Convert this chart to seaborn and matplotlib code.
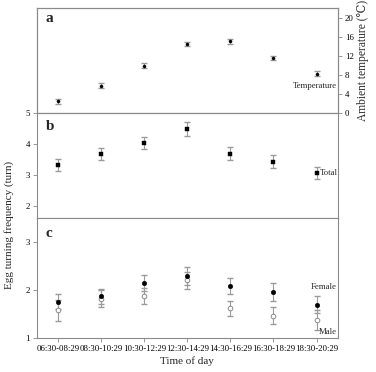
import matplotlib
matplotlib.use("Agg")
import matplotlib.pyplot as plt
import numpy as np
import pandas as pd
import seaborn as sns

periods = ["06:30-08:29", "08:30-10:29", "10:30-12:29", "12:30-14:29",
           "14:30-16:29", "16:30-18:29", "18:30-20:29"]
temp = [2.5, 5.8, 10.0, 14.6, 15.1, 11.6, 8.3]
temp_err = [0.5, 0.5, 0.5, 0.4, 0.5, 0.5, 0.5]
total = [3.33, 3.69, 4.03, 4.48, 3.70, 3.43, 3.07]
total_err = [0.20, 0.20, 0.19, 0.22, 0.20, 0.21, 0.19]
female = [1.76, 1.87, 2.15, 2.29, 2.08, 1.96, 1.70]
female_err = [0.15, 0.15, 0.17, 0.19, 0.17, 0.18, 0.17]
male = [1.58, 1.82, 1.88, 2.20, 1.62, 1.47, 1.37]
male_err = [0.22, 0.18, 0.16, 0.18, 0.16, 0.18, 0.21]

sns.set_style("ticks")
plt.rcParams["font.family"] = ["Liberation Serif", "DejaVu Serif"]
grey = "#8a8a8a"
bar_grey = "#9a9a9a"

fig = plt.figure(figsize=(3.76, 3.72), dpi=100)
ax_a = fig.add_axes([0.098, 0.696, 0.801, 0.282])
ax_b = fig.add_axes([0.098, 0.414, 0.801, 0.282])
ax_c = fig.add_axes([0.098, 0.091, 0.801, 0.323])

xs = np.arange(len(periods))
df = pd.DataFrame({"period": periods, "temp": temp, "total": total,
                   "female": female, "male": male})

# panel a: temperature on right axis
ax_t = ax_a.twinx()
ax_a.set_yticks([])
ax_t.errorbar(xs, temp, yerr=temp_err, fmt="none", ecolor=bar_grey, elinewidth=0.8, capsize=2)
sns.scatterplot(data=df, x="period", y="temp", ax=ax_t, color="black", marker="o", s=5,
                edgecolor="black", linewidth=0.3, zorder=3)
ax_t.set_ylim(0, 22.1)
ax_t.set_yticks([0, 4, 8, 12, 16, 20])
ax_t.set_ylabel("Ambient temperature (℃)", fontsize=8.3, labelpad=2)
ax_t.text(6.47, 5.8, "Temperature", ha="right", va="center", fontsize=6.3)
ax_a.text(0.03, 0.9, "a", transform=ax_a.transAxes, fontsize=11, fontweight="bold", va="center")

# panel b: total
ax_b.errorbar(xs, total, yerr=total_err, fmt="none", ecolor=bar_grey, elinewidth=0.8, capsize=2)
sns.scatterplot(data=df, x="period", y="total", ax=ax_b, color="black", marker="s", s=11,
                edgecolor="black", linewidth=0.3, zorder=3)
ax_b.set_ylim(1.63, 5.0)
ax_b.set_yticks([2, 3, 4, 5])
ax_b.text(6.07, total[-1], "Total", ha="left", va="center", fontsize=6.3)
ax_b.text(0.03, 0.87, "b", transform=ax_b.transAxes, fontsize=11, fontweight="bold", va="center")

# panel c: female and male
ax_c.errorbar(xs, female, yerr=female_err, fmt="none", ecolor=bar_grey, elinewidth=0.8, capsize=2)
ax_c.errorbar(xs, male, yerr=male_err, fmt="none", ecolor=bar_grey, elinewidth=0.8, capsize=2)
sns.scatterplot(data=df, x="period", y="male", ax=ax_c, color="white", marker="o", s=11,
                edgecolor=grey, linewidth=0.7, zorder=3)
sns.scatterplot(data=df, x="period", y="female", ax=ax_c, color="black", marker="o", s=11,
                edgecolor="black", linewidth=0.3, zorder=4)
ax_c.set_ylim(1, 3.5)
ax_c.set_yticks([1, 2, 3])
ax_c.text(6.47, 2.06, "Female", ha="right", va="center", fontsize=6.3)
ax_c.text(6.47, 1.12, "Male", ha="right", va="center", fontsize=6.3)
ax_c.text(0.03, 0.87, "c", transform=ax_c.transAxes, fontsize=11, fontweight="bold", va="center")
ax_c.set_xlabel("Time of day", fontsize=8, labelpad=2)

for ax in [ax_a, ax_t, ax_b, ax_c]:
    ax.set_xlim(-0.5, 6.5)
    for sp in ax.spines.values():
        sp.set_visible(True)
        sp.set_color(grey)
        sp.set_linewidth(0.8)
    ax.tick_params(colors=grey, labelcolor="black", labelsize=6.3, length=3, width=0.6, pad=2)
for ax in [ax_a, ax_b]:
    ax.set_xticks([])
    ax.set_xlabel("")
ax_t.set_xlabel("")
ax_b.set_ylabel("")
ax_c.set_ylabel("")
ax_a.set_ylabel("")
ax_c.set_xticks(xs)
ax_c.set_xticklabels(periods, fontsize=6.3)

fig.text(0.025, 0.395, "Egg turning frequency (turn)", rotation=90, ha="center", va="center",
         fontsize=8)

fig.savefig("out.png", dpi=100)
